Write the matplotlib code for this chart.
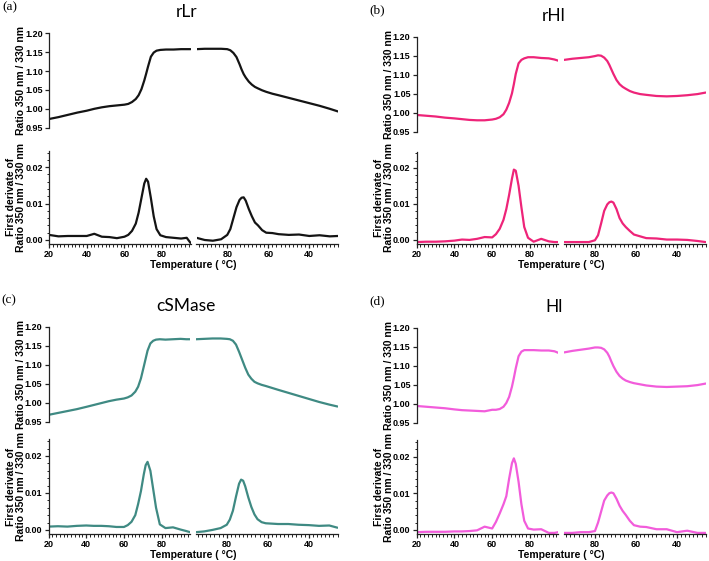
import numpy as np
import matplotlib
matplotlib.use('Agg')
import matplotlib.pyplot as plt
from matplotlib.ticker import MultipleLocator

# temperature grids (heating 20 -> 95, then cooling 95 -> 26)
heat_T = [20, 25, 30, 35, 40, 44, 48, 52, 56, 60, 62, 64, 66, 67.5, 69, 70.5, 71.5,
          72.5, 74, 75.5, 77, 79, 82, 86, 90, 93, 95]
cool_T = [95, 91, 87, 83, 80, 78.5, 77, 75.5, 74, 73, 72, 71, 69.5, 68, 66.5, 65, 63,
          61, 58, 55, 50, 45, 40, 35, 30, 26]

# (a) rLr
rLr_ratio_heat = [0.973, 0.978, 0.984, 0.990, 0.995, 1.000, 1.004, 1.007, 1.009, 1.011, 1.013,
                  1.018, 1.026, 1.036, 1.052, 1.075, 1.093, 1.112, 1.138, 1.149, 1.154, 1.156,
                  1.157, 1.157, 1.158, 1.158, 1.158]
rLr_ratio_cool = [1.158, 1.159, 1.159, 1.159, 1.158, 1.155, 1.148, 1.137, 1.118, 1.104, 1.092,
                  1.083, 1.072, 1.064, 1.058, 1.054, 1.049, 1.045, 1.040, 1.036, 1.029, 1.022,
                  1.015, 1.008, 1.000, 0.993]
rLr_deriv_heat = [0.0014, 0.0010, 0.0011, 0.0011, 0.0011, 0.0017, 0.0009, 0.0008, 0.0005, 0.0009,
                  0.0014, 0.0025, 0.0045, 0.0075, 0.0115, 0.0155, 0.0168, 0.0160, 0.0115, 0.0065,
                  0.0030, 0.0013, 0.0008, 0.0006, 0.0004, 0.0006, -0.0008]
rLr_deriv_cool = [0.0006, 0.0000, -0.0002, 0.0002, 0.0014, 0.0030, 0.0060, 0.0090, 0.0110, 0.0116,
                  0.0117, 0.0108, 0.0085, 0.0065, 0.0048, 0.0040, 0.0027, 0.0020, 0.0019, 0.0016,
                  0.0014, 0.0015, 0.0011, 0.0013, 0.0010, 0.0011]

# (b) rHl
rHl_ratio_heat = [0.994, 0.992, 0.990, 0.987, 0.985, 0.983, 0.981, 0.980, 0.980, 0.982, 0.984,
                  0.988, 0.996, 1.008, 1.026, 1.051, 1.075, 1.102, 1.130, 1.139, 1.143, 1.146,
                  1.146, 1.144, 1.143, 1.140, 1.137]
rHl_ratio_cool = [1.139, 1.142, 1.144, 1.146, 1.149, 1.151, 1.150, 1.145, 1.136, 1.126, 1.114,
                  1.102, 1.086, 1.075, 1.068, 1.063, 1.057, 1.053, 1.049, 1.047, 1.044, 1.043,
                  1.044, 1.046, 1.049, 1.053]
rHl_deriv_heat = [-0.0007, -0.0006, -0.0006, -0.0005, -0.0003, 0.0000, -0.0001, 0.0002, 0.0007,
                  0.0006, 0.0015, 0.0030, 0.0055, 0.0085, 0.0125, 0.0170, 0.0195, 0.0192, 0.0150,
                  0.0090, 0.0035, 0.0005, -0.0006, 0.0002, -0.0005, -0.0007, -0.0007]
rHl_deriv_cool = [-0.0007, -0.0007, -0.0007, -0.0007, -0.0002, 0.0012, 0.0045, 0.0080, 0.0098,
                  0.0104, 0.0106, 0.0103, 0.0085, 0.0060, 0.0045, 0.0035, 0.0024, 0.0014, 0.0009,
                  0.0004, 0.0003, 0.0000, 0.0000, -0.0001, -0.0004, -0.0007]

# (c) cSMase
cSM_ratio_heat = [0.968, 0.973, 0.978, 0.983, 0.989, 0.994, 0.999, 1.004, 1.008, 1.011, 1.014,
                  1.019, 1.029, 1.042, 1.064, 1.095, 1.116, 1.137, 1.156, 1.163, 1.166, 1.167,
                  1.166, 1.167, 1.168, 1.167, 1.167]
cSM_ratio_cool = [1.167, 1.168, 1.169, 1.169, 1.168, 1.167, 1.163, 1.153, 1.134, 1.120, 1.106,
                  1.092, 1.074, 1.063, 1.055, 1.051, 1.047, 1.044, 1.039, 1.034, 1.026, 1.018,
                  1.010, 1.002, 0.995, 0.990]
cSM_deriv_heat = [0.0009, 0.0010, 0.0009, 0.0011, 0.0012, 0.0011, 0.0011, 0.0010, 0.0008, 0.0008,
                  0.0013, 0.0022, 0.0040, 0.0070, 0.0105, 0.0150, 0.0175, 0.0184, 0.0160, 0.0110,
                  0.0060, 0.0015, 0.0005, 0.0007, 0.0001, -0.0003, -0.0006]
cSM_deriv_cool = [-0.0006, -0.0004, 0.0000, 0.0005, 0.0014, 0.0028, 0.0052, 0.0090, 0.0125,
                  0.0136, 0.0133, 0.0118, 0.0088, 0.0062, 0.0042, 0.0029, 0.0021, 0.0018, 0.0017,
                  0.0016, 0.0016, 0.0014, 0.0013, 0.0011, 0.0012, 0.0006]

# (d) Hl
Hl_ratio_heat = [0.994, 0.992, 0.990, 0.988, 0.985, 0.983, 0.982, 0.981, 0.980, 0.984, 0.984,
                 0.986, 0.992, 1.002, 1.018, 1.045, 1.068, 1.093, 1.125, 1.137, 1.141, 1.141,
                 1.141, 1.140, 1.140, 1.138, 1.134]
Hl_ratio_cool = [1.135, 1.139, 1.142, 1.145, 1.148, 1.148, 1.147, 1.143, 1.134, 1.124, 1.111,
                 1.099, 1.084, 1.073, 1.066, 1.061, 1.057, 1.054, 1.051, 1.048, 1.045, 1.044,
                 1.045, 1.046, 1.049, 1.053]
Hl_deriv_heat = [-0.0006, -0.0005, -0.0005, -0.0005, -0.0004, -0.0004, -0.0003, -0.0001, 0.0009,
                 0.0004, 0.0022, 0.0045, 0.0070, 0.0092, 0.0140, 0.0182, 0.0195, 0.0180, 0.0131,
                 0.0070, 0.0025, 0.0004, 0.0001, 0.0002, -0.0008, -0.0008, -0.0006]
Hl_deriv_cool = [-0.0008, -0.0008, -0.0006, -0.0006, -0.0003, 0.0020, 0.0050, 0.0080, 0.0094,
                 0.0100, 0.0102, 0.0100, 0.0085, 0.0066, 0.0052, 0.0041, 0.0025, 0.0013, 0.0009,
                 0.0008, 0.0002, 0.0002, -0.0006, -0.0002, -0.0008, -0.0008]

W, H = 709, 561
fig = plt.figure(figsize=(W / 100, H / 100), dpi=100)


def box(x0, y0, x1, y1):
    # pixel box (top-left origin) -> figure fraction
    return [x0 / W, 1 - y1 / H, (x1 - x0) / W, (y1 - y0) / H]


tick_font = dict(family='Liberation Sans', weight='bold', size=6.5)
lab_font = dict(family='Liberation Sans', weight='bold', size=7.5)
SEG_W = 141.5
GAP = 6


def style_ticks(ax):
    for lab in ax.get_xticklabels() + ax.get_yticklabels():
        lab.set_fontfamily(tick_font['family'])
        lab.set_fontweight(tick_font['weight'])
        lab.set_fontsize(tick_font['size'])
    ax.tick_params(which='major', length=3, width=0.9, pad=1.5, color='#222222')
    ax.tick_params(which='minor', length=1.8, width=0.7, color='#222222')
    for s in ax.spines.values():
        s.set_linewidth(0.9)
        s.set_color('#222222')


def draw_panel(xl, top, bot, letter, title, color,
               ratio_heat, ratio_cool, deriv_heat, deriv_cool):
    x_l0, x_l1 = xl, xl + SEG_W
    x_r0, x_r1 = x_l1 + GAP, x_l1 + GAP + SEG_W

    ax_tl = fig.add_axes(box(x_l0, top[0], x_l1, top[1]))
    ax_tr = fig.add_axes(box(x_r0, top[0], x_r1, top[1]))
    ax_bl = fig.add_axes(box(x_l0, bot[0], x_l1, bot[1]))
    ax_br = fig.add_axes(box(x_r0, bot[0], x_r1, bot[1]))

    for ax in (ax_tl, ax_tr, ax_bl, ax_br):
        ax.patch.set_alpha(0)
        ax.spines['top'].set_visible(False)
        ax.spines['right'].set_visible(False)

    ax_tl.plot(heat_T, ratio_heat, color=color, lw=1.6, solid_capstyle='round')
    ax_tr.plot(cool_T, ratio_cool, color=color, lw=1.6, solid_capstyle='round')
    ax_bl.plot(heat_T, deriv_heat, color=color, lw=1.6, solid_capstyle='round')
    ax_br.plot(cool_T, deriv_cool, color=color, lw=1.6, solid_capstyle='round')

    for ax in (ax_tl, ax_bl):
        ax.set_xlim(20, 95)
    for ax in (ax_tr, ax_br):
        ax.set_xlim(95, 26)
    for ax in (ax_tl, ax_tr):
        ax.set_ylim(0.95, 1.20)
        ax.spines['bottom'].set_visible(False)
        ax.set_xticks([])
    for ax in (ax_bl, ax_br):
        ax.set_ylim(-0.0011, 0.0245)

    ax_tr.spines['left'].set_visible(False)
    ax_tr.set_yticks([])
    ax_br.spines['left'].set_visible(False)
    ax_br.set_yticks([])
    ax_br.tick_params(axis='y', which='both', left=False)

    ax_tl.set_yticks([0.95, 1.00, 1.05, 1.10, 1.15, 1.20])
    ax_tl.set_yticklabels(['0.95', '1.00', '1.05', '1.10', '1.15', '1.20'])
    ax_bl.set_yticks([0.00, 0.01, 0.02])
    ax_bl.set_yticklabels(['0.00', '0.01', '0.02'])
    ax_bl.yaxis.set_minor_locator(MultipleLocator(0.002))

    ax_bl.set_xticks([20, 40, 60, 80])
    ax_br.set_xticks([80, 60, 40])
    for ax in (ax_bl, ax_br):
        ax.xaxis.set_minor_locator(MultipleLocator(2))

    for ax in (ax_tl, ax_tr, ax_bl, ax_br):
        style_ticks(ax)

    # label anchor is the right edge of the rotated text
    ax_tl.set_ylabel('Ratio 350 nm / 330 nm', fontdict=lab_font)
    ax_tl.yaxis.set_label_coords(-22.5 / SEG_W, 0.5)
    ax_bl.set_ylabel('First derivate of\nRatio 350 nm / 330 nm', fontdict=lab_font,
                     linespacing=1.05)
    ax_bl.yaxis.set_label_coords(-22.5 / SEG_W, 0.5)

    fig.text((x_l0 + x_r1) / 2 / W, 1 - (bot[1] + 21) / H, 'Temperature ( \u00b0C)',
             ha='center', va='center', **lab_font)
    fig.text((x_l0 + x_r1) / 2 / W - 0.01, 1 - (top[0] - 21) / H, title,
             ha='center', va='center', family='Lato', size=12.5)
    fig.text((xl - 47) / W, 1 - (top[0] - 26) / H, letter,
             ha='left', va='center', family='Liberation Serif', size=9.5)


draw_panel(49, (33.3, 127.7), (150.7, 244), '(a)', 'rLr', '#141414',
           rLr_ratio_heat, rLr_ratio_cool, rLr_deriv_heat, rLr_deriv_cool)
draw_panel(416.7, (36.7, 131.7), (151.7, 243.5), '(b)', 'rHl', '#EE2479',
           rHl_ratio_heat, rHl_ratio_cool, rHl_deriv_heat, rHl_deriv_cool)
draw_panel(48.5, (326.7, 421.7), (439.3, 534), '(c)', 'cSMase', '#3F8A83',
           cSM_ratio_heat, cSM_ratio_cool, cSM_deriv_heat, cSM_deriv_cool)
draw_panel(416.7, (327.7, 422.7), (440, 534), '(d)', 'Hl', '#F25CDB',
           Hl_ratio_heat, Hl_ratio_cool, Hl_deriv_heat, Hl_deriv_cool)

fig.savefig('out.png', dpi=100, facecolor='white')
